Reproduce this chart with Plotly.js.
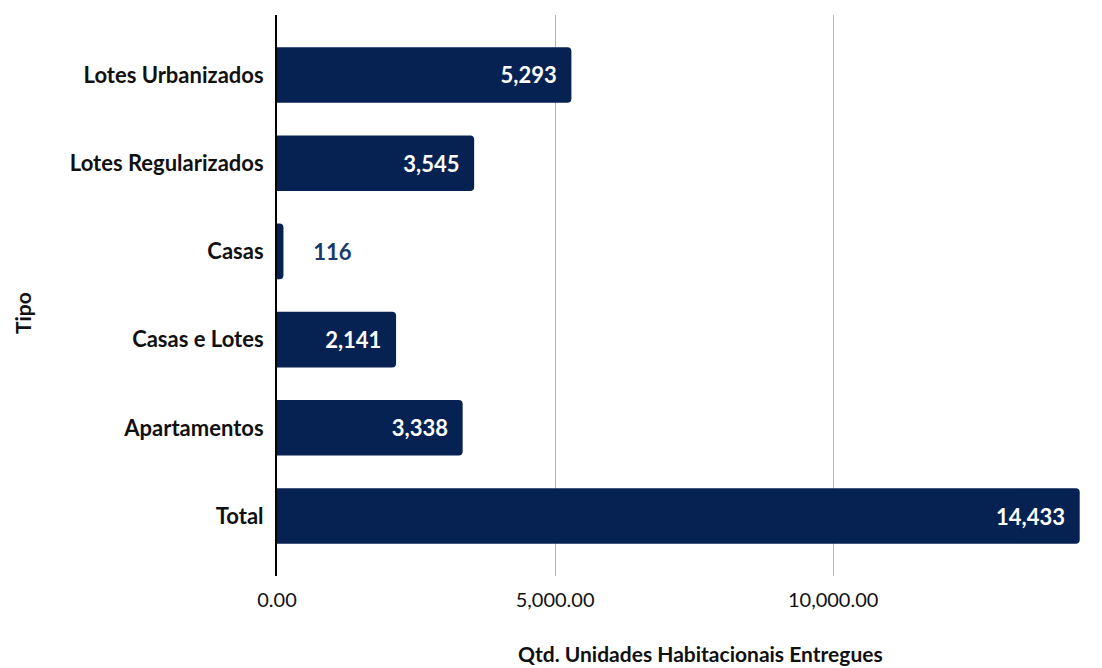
<!DOCTYPE html>
<html>
<head>
<meta charset="utf-8">
<script src="https://cdn.plot.ly/plotly-3.0.1.min.js"></script>
<style>html,body{margin:0;padding:0;background:#fff;}#chart{width:1102px;height:668px;}</style>
</head>
<body>
<div id="chart"></div>
<script>
const categories = ["Lotes Urbanizados", "Lotes Regularizados", "Casas", "Casas e Lotes", "Apartamentos", "Total"];
const values = [5293, 3545, 116, 2141, 3338, 14433];
const xTitle = "Qtd. Unidades Habitacionais Entregues";
const yTitle = "Tipo";

const NB = "\u00a0";
const fmt = v => v.toLocaleString("en-US");
const outside = values.map(v => v < 1000);
const labels = values.map((v, i) => outside[i] ? NB.repeat(5) + fmt(v) : fmt(v) + NB.repeat(2));

const FONT = "Lato, 'Noto Sans', sans-serif";

const trace = {
  type: "bar",
  orientation: "h",
  y: categories,
  x: values,
  text: labels,
  textposition: outside.map(o => o ? "outside" : "inside"),
  insidetextanchor: "end",
  textangle: 0,
  cliponaxis: false,
  insidetextfont: {family: FONT, size: 22, color: "#ffffff", weight: 700},
  outsidetextfont: {family: FONT, size: 22, color: "#163a6b", weight: 700},
  marker: {color: "#062252", cornerradius: 4, line: {width: 0}},
  hoverinfo: "none"
};

const layout = {
  width: 1102,
  height: 668,
  margin: {l: 277, r: 8, t: 15, b: 92},
  paper_bgcolor: "#ffffff",
  plot_bgcolor: "#ffffff",
  bargap: 0.37,
  showlegend: false,
  font: {family: FONT, color: "#111111"},
  xaxis: {
    range: [0, 14690],
    tickvals: [0, 5000, 10000],
    tickformat: ",.2f",
    showgrid: true,
    gridcolor: "#b5b5b5",
    gridwidth: 1,
    zeroline: false,
    showline: false,
    ticks: "",
    tickfont: {family: FONT, size: 20, color: "#111111"},
    ticklabelstandoff: 10
  },
  yaxis: {
    type: "category",
    categoryorder: "array",
    categoryarray: categories,
    range: [5.68, -0.68],
    showline: true,
    linecolor: "#000000",
    linewidth: 2,
    showgrid: false,
    zeroline: false,
    ticks: "",
    ticklabelstandoff: 7,
    tickfont: {family: FONT, size: 22, color: "#111111", weight: 700}
  },
  annotations: [
    {text: xTitle, xref: "paper", yref: "paper", x: (700 - 277) / (1102 - 285), y: 0, yshift: -77,
     xanchor: "center", yanchor: "middle", showarrow: false,
     font: {family: FONT, size: 21, color: "#111111", weight: 700}},
    {text: yTitle, xref: "paper", yref: "paper", x: 0, xshift: -255, y: (576 - 313) / (576 - 15),
     xanchor: "center", yanchor: "middle", textangle: -90, showarrow: false,
     font: {family: FONT, size: 21, color: "#111111", weight: 700}}
  ]
};

Plotly.newPlot("chart", [trace], layout, {displayModeBar: false, staticPlot: true});
</script>
</body>
</html>
